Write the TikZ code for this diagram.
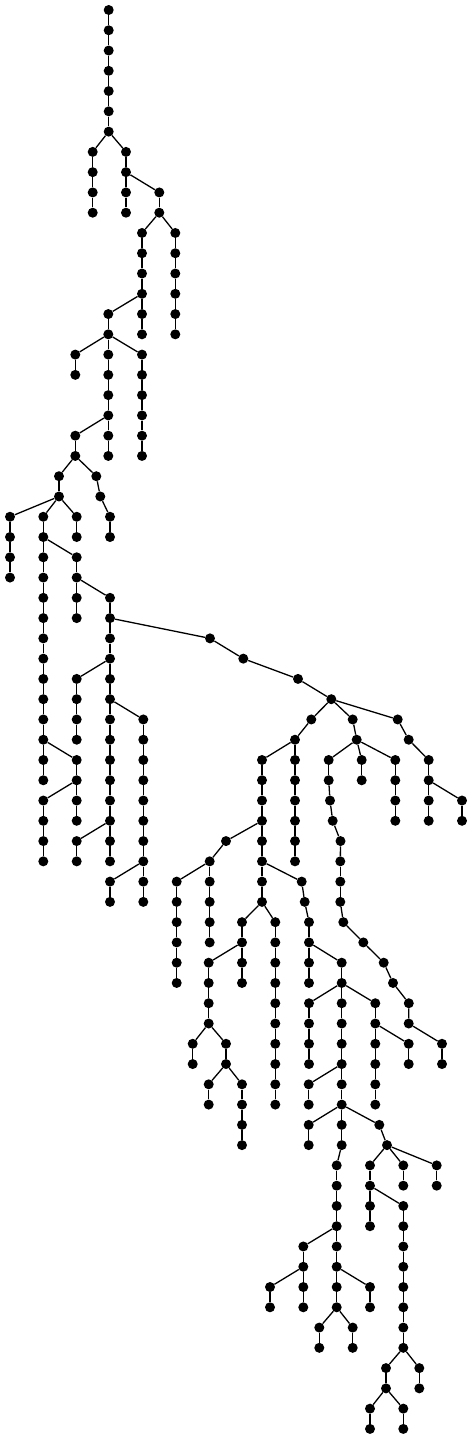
\documentclass[tikz,border=0pt]{standalone}
\tikzset{
  dot/.style={circle,fill=black,draw=none,inner sep=0pt,minimum size=10pt},
  edge/.style={line width=1.3pt,black}
}
\newcommand\V[3]{\node[dot] (#1) at (#2,{-(10+20.27*(#3))}) {};}
\newcommand\E[2]{\draw[edge] (#1) -- (#2);}
\newcommand\Chain[4]{%
  \foreach \myl in {#3,...,#4}{\V{#1\myl}{#2}{\myl}}%
  \ifnum#3<#4\relax
    \pgfmathtruncatemacro\cfrom{#3+1}%
    \foreach \myl in {\cfrom,...,#4}{\pgfmathtruncatemacro\myp{\myl-1}\E{#1\myp}{#1\myl}}%
  \fi}
\begin{document}
\begin{tikzpicture}[x=1pt,y=1pt]
\fill[white] (0,0) rectangle (472,-1439);
\useasboundingbox (0,0) rectangle (472,-1439);
% ---- upper part ----
\Chain{A}{108.7}{0}{6}
\Chain{B}{92.7}{7}{10}  \E{A6}{B7}
\Chain{C}{126}{7}{10}   \E{A6}{C7}
\Chain{D}{159.3}{9}{10} \E{C8}{D9}
\Chain{E}{142}{11}{16}  \E{D10}{E11}
\Chain{F}{175.3}{11}{16} \E{D10}{F11}
\Chain{G}{108.3}{15}{16} \E{E14}{G15}
\Chain{H}{75.3}{17}{18} \E{G16}{H17}
\Chain{I}{108.3}{17}{22} \E{G16}{I17}
\Chain{J}{142}{17}{22}  \E{G16}{J17}
\Chain{K}{75.3}{21}{22} \E{I20}{K21}
\Chain{la}{59}{23}{24}  \E{K22}{la23}
\V{ma23}{96.3}{23} \V{ma24}{100.3}{24} \E{K22}{ma23} \E{ma23}{ma24}
\Chain{N}{110}{25}{26}  \E{ma24}{N25}
\Chain{O}{10}{25}{28}   \E{la24}{O25}
\Chain{P}{43.3}{25}{38} \E{la24}{P25}
\Chain{Q}{76.7}{25}{26} \E{la24}{Q25}
\Chain{R}{76.7}{27}{30} \E{P26}{R27}
\Chain{S}{110}{29}{42}  \E{R28}{S29}
\Chain{ua}{76.7}{33}{36} \E{S32}{ua33}
\Chain{ub}{143.3}{35}{44} \E{S34}{ub35}
\Chain{uc}{76.7}{37}{40} \E{P36}{uc37}
\Chain{ud}{43.3}{39}{42} \E{uc38}{ud39}
\Chain{ue}{76.7}{41}{42} \E{S40}{ue41}
\Chain{uf}{110}{43}{44} \E{ub42}{uf43}
% ---- right part ----
\V{ra31}{210}{31} \V{ra32}{243.3}{32} \V{ra33}{298}{33} \V{ra34}{331.3}{34}
\E{S30}{ra31} \E{ra31}{ra32} \E{ra32}{ra33} \E{ra33}{ra34}
\V{rb35}{311.3}{35} \V{rc35}{352.7}{35} \V{rd35}{397.7}{35}
\E{ra34}{rb35} \E{ra34}{rc35} \E{ra34}{rd35}
\V{rb36}{295}{36} \V{rc36}{356.7}{36} \V{rd36}{408.7}{36}
\E{rb35}{rb36} \E{rc35}{rc36} \E{rd35}{rd36}
\Chain{sa}{262}{37}{44} \E{rb36}{sa37}
\Chain{sb}{295}{37}{42} \E{rb36}{sb37}
\V{sc37}{328.7}{37} \V{sc38}{328.7}{38} \V{sc39}{330}{39} \V{sc40}{332.7}{40}
\V{sc41}{340.5}{41} \V{sc42}{340.3}{42} \V{sc43}{340.3}{43} \V{sc44}{340.3}{44}
\V{sc45}{343.3}{45} \V{sc46}{363.3}{46} \V{sc47}{383.7}{47} \V{sc48}{393}{48}
\V{sc49}{408.8}{49} \V{sc50}{408.7}{50}
\E{rc36}{sc37} \E{sc37}{sc38} \E{sc38}{sc39} \E{sc39}{sc40} \E{sc40}{sc41}
\E{sc41}{sc42} \E{sc42}{sc43} \E{sc43}{sc44} \E{sc44}{sc45} \E{sc45}{sc46}
\E{sc46}{sc47} \E{sc47}{sc48} \E{sc48}{sc49} \E{sc49}{sc50}
\Chain{sd}{442}{51}{52} \E{sc50}{sd51}
\Chain{se}{361.7}{37}{38} \E{rc36}{se37}
\Chain{sf}{395.3}{37}{40} \E{rc36}{sf37}
\Chain{sg}{428.7}{37}{40} \E{rd36}{sg37}
\Chain{sh}{462}{39}{40} \E{sg38}{sh39}
\V{ta41}{226}{41} \E{sa40}{ta41}
\Chain{tb}{209.7}{42}{46} \E{ta41}{tb42}
\Chain{tc}{176.7}{43}{48} \E{tb42}{tc43}
\V{td43}{301.7}{43} \V{td44}{304.7}{44} \V{td45}{309}{45}
\V{td46}{309}{46} \V{td47}{309}{47} \V{td48}{309}{48}
\E{sa42}{td43} \E{td43}{td44} \E{td44}{td45} \E{td45}{td46} \E{td46}{td47} \E{td47}{td48}
\Chain{te}{242}{45}{48} \E{sa44}{te45}
\Chain{tf}{275.3}{45}{54} \E{sa44}{tf45}
\Chain{tg}{208.7}{47}{50} \E{te46}{tg47}
\Chain{th}{192.7}{51}{52} \E{tg50}{th51}
\Chain{ti}{226}{51}{52} \E{tg50}{ti51}
\Chain{tj}{208.7}{53}{54} \E{ti52}{tj53}
\Chain{tk}{242}{53}{56} \E{ti52}{tk53}
\Chain{va}{341.7}{47}{56} \E{td46}{va47}
\Chain{vb}{309}{49}{52} \E{va48}{vb49}
\Chain{vc}{375.3}{49}{54} \E{va48}{vc49}
\Chain{vd}{408.7}{51}{52} \E{vc50}{vd51}
\Chain{ve}{308.7}{53}{54} \E{va52}{ve53}
\Chain{vf}{308.7}{55}{56} \E{va54}{vf55}
\V{vg55}{379.3}{55} \V{vg56}{387}{56} \E{va54}{vg55} \E{vg55}{vg56}
\Chain{wa}{336.7}{57}{60} \E{va56}{wa57}
\Chain{wb}{370}{57}{60} \E{vg56}{wb57}
\Chain{wc}{403.3}{59}{66} \E{wb58}{wc59}
\Chain{wd}{403.3}{57}{58} \E{vg56}{wd57}
\Chain{we}{436.7}{57}{58} \E{vg56}{we57}
\Chain{xa}{303.3}{61}{62} \E{wa60}{xa61}
\Chain{xb}{336.7}{61}{64} \E{wa60}{xb61}
\Chain{xc}{270}{63}{64} \E{xa62}{xc63}
\Chain{xd}{303.3}{63}{64} \E{xa62}{xd63}
\Chain{xe}{370}{63}{64} \E{xb62}{xe63}
\Chain{xf}{319.3}{65}{66} \E{xb64}{xf65}
\Chain{xg}{352.7}{65}{66} \E{xb64}{xg65}
\Chain{ya}{386}{67}{68} \E{wc66}{ya67}
\Chain{yb}{419.3}{67}{68} \E{wc66}{yb67}
\Chain{yc}{370}{69}{70} \E{ya68}{yc69}
\Chain{yd}{403.3}{69}{70} \E{ya68}{yd69}
\end{tikzpicture}
\end{document}
